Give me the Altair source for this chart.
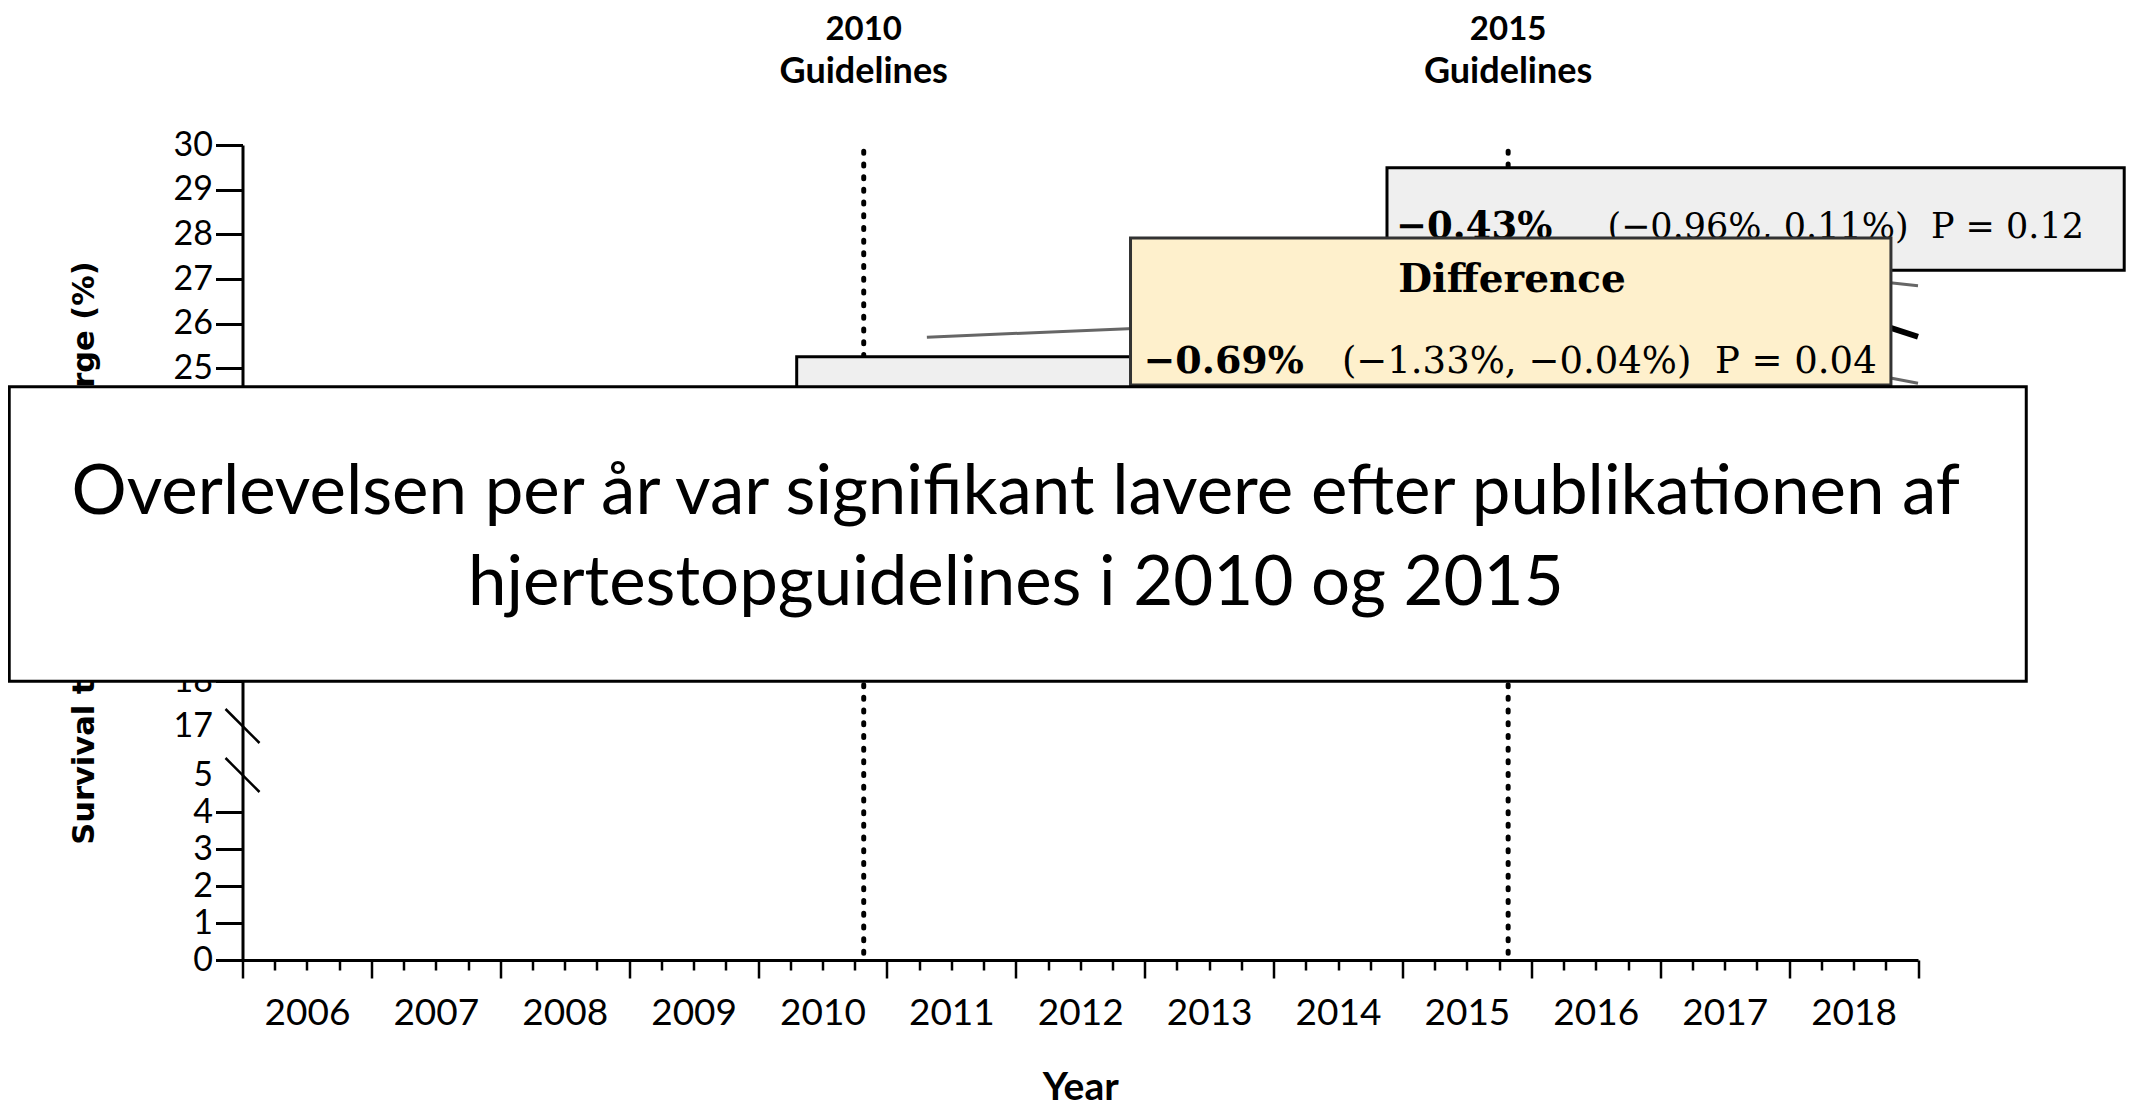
import altair as alt
import pandas as pd

# ---------------- data ----------------
x_start, x_end = 2006, 2019
quarter_ticks = [2006 + q / 4 for q in range(53)]
y_break_domain = [0, 5, 17, 30]
y_ticks = [0, 1, 2, 3, 4, 5, 17, 18, 19, 20, 21, 22, 23, 24, 25, 26, 27, 28, 29, 30]
axis_break_at = [17, 5]

guideline_dates = [2010.82, 2015.82]
guideline_low = [0.18, 0.18]
guideline_high = [30, 30]

trend_series = ["upper_2010", "upper_2010", "upper_2015", "upper_2015",
                "trend_2015", "trend_2015", "lower_2015", "lower_2015"]
trend_year = [2011.31, 2013.60, 2018.30, 2019.00, 2018.40, 2019.00, 2018.40, 2019.00]
trend_pct = [25.70, 25.98, 27.07, 26.85, 26.27, 25.71, 25.00, 24.67]

box_names = ["reference_2010", "reference_2015", "difference", "conclusion"]
box_year_from = [2010.30, 2014.88, 2012.89, 2004.19]
box_year_to = [2013.50, 2020.60, 2018.79, 2019.84]
box_pct_from = [24.00, 27.20, 24.63, 18.00]
box_pct_to = [25.26, 29.49, 27.92, 24.59]

note_keys = ["g_year", "g_year", "g_word", "g_word", "diff_title", "diff_est", "diff_ci",
             "ref_est", "ref_ci", "conclusion", "conclusion"]
note_texts = ["2010", "2015", "Guidelines", "Guidelines", "Difference",
              "\u22120.69%", "(\u22121.33%, \u22120.04%)\u00a0\u00a0P = 0.04",
              "\u22120.43%", "(\u22120.96%, 0.11%)\u00a0\u00a0P = 0.12",
              "Overlevelsen per år var signifikant lavere efter publikationen af",
              "hjertestopguidelines i 2010 og 2015"]
note_year = [2010.82, 2015.82, 2010.82, 2015.82, 2015.85, 2012.99, 2014.53,
             2014.95, 2016.59, 2012.0, 2012.0]
note_pct = [32.57, 32.57, 31.64, 31.64, 26.97, 25.15, 25.15, 28.17, 28.17, 22.22, 20.17]

# ---------------- tables ----------------
guide_df = pd.DataFrame({"date": guideline_dates, "low": guideline_low, "high": guideline_high})
trend_df = pd.DataFrame({"series": trend_series, "year": trend_year, "pct": trend_pct})
box_df = pd.DataFrame({"name": box_names, "x1": box_year_from, "x2": box_year_to,
                       "y1": box_pct_from, "y2": box_pct_to})
note_df = pd.DataFrame({"key": note_keys, "text": note_texts, "year": note_year, "pct": note_pct})
break_df = pd.DataFrame({"year": [x_start] * len(axis_break_at), "pct": axis_break_at})

W, H = 1675.5, 815

xs = alt.Scale(domain=[x_start, x_end], nice=False, zero=False)
ys = alt.Scale(domain=y_break_domain, range=[H, 630, 581, 0], nice=False, zero=False)

x_axis = alt.Axis(
    values=quarter_ticks, grid=False,
    domainColor="black", domainWidth=3,
    tickColor="black", tickWidth=2.5,
    tickSize={"condition": {"test": "datum.value % 1 === 0", "value": 18}, "value": 10},
    labelExpr="datum.value % 1 === 0 && datum.value < 2019 ? format(datum.value, 'd') : ''",
    labelOffset=64.45, labelFont="Lato", labelFontSize=37, labelColor="black",
    labelPadding=17, labelOverlap=False, labelFlush=False, labelBound=False,
    titleFont="Lato", titleFontWeight="bold", titleFontSize=39, titleColor="black",
    titleY=127, titleBaseline="middle",
)
# labels 19-24 sit under the overlay box in the reference, so they are left blank
y_axis = alt.Axis(
    values=y_ticks, grid=False,
    domainColor="black", domainWidth=3,
    tickSize=27, tickWidth=3,
    tickColor={"condition": {"test": "datum.value === 5 || datum.value === 17", "value": "transparent"},
               "value": "black"},
    labelExpr="datum.value >= 19 && datum.value <= 24 ? '' : datum.label",
    labelFont="Lato", labelFontSize=34, labelColor="black", labelPadding=3,
    labelOverlap=False, labelFlush=False, labelBound=False,
    titleFont="DejaVu Sans", titleFontSize=30.5, titleFontWeight="bold", titleColor="black",
    titleX=-158, titleY=H / 2, titleAngle=270, titleBaseline="middle", titleAlign="center",
)


def X(f):
    return alt.X(f, type="quantitative", scale=xs, axis=x_axis, title="Year")


def Y(f):
    return alt.Y(f, type="quantitative", scale=ys, axis=y_axis,
                 title="Survival to hospital discharge (%)")


def box(name, **style):
    return (alt.Chart(box_df).transform_filter(f"datum.name == '{name}'")
            .mark_rect(**style).encode(x=X("x1"), x2="x2", y=Y("y1"), y2="y2"))


def note(key, **style):
    return (alt.Chart(note_df).transform_filter(f"datum.key == '{key}'")
            .mark_text(baseline="middle", color="black", **style)
            .encode(x=X("year"), y=Y("pct"), text="text"))


guides = alt.Chart(guide_df).mark_rule(
    color="black", strokeWidth=5, strokeDash=[2, 10.7], strokeCap="round"
).encode(x=X("date"), y=Y("low"), y2="high")

gray_lines = (alt.Chart(trend_df).transform_filter("datum.series != 'trend_2015'")
              .mark_line(color="#666666", strokeWidth=3)
              .encode(x=X("year"), y=Y("pct"), detail="series"))
black_line = (alt.Chart(trend_df).transform_filter("datum.series == 'trend_2015'")
              .mark_line(color="black", strokeWidth=6)
              .encode(x=X("year"), y=Y("pct")))

breaks = alt.Chart(break_df).mark_rule(
    color="black", strokeWidth=2.5, xOffset=-17, x2Offset=17, yOffset=-17, y2Offset=17
).encode(x=X("year"), x2="year", y=Y("pct"), y2="pct")

serif = "DejaVu Serif"
layers = [
    guides,
    box("reference_2010", fill="#efefef", stroke="black", strokeWidth=3),
    gray_lines, black_line,
    box("reference_2015", fill="#efefef", stroke="black", strokeWidth=3),
    note("ref_est", font=serif, fontWeight="bold", fontSize=37, align="left"),
    note("ref_ci", font=serif, fontSize=35, align="left"),
    box("difference", fill="#fef0cc", stroke="#333333", strokeWidth=3),
    note("diff_title", font=serif, fontWeight="bold", fontSize=39, align="center"),
    note("diff_est", font=serif, fontWeight="bold", fontSize=38, align="left"),
    note("diff_ci", font=serif, fontSize=37, align="left"),
    box("conclusion", fill="white", stroke="black", strokeWidth=3),
    note("conclusion", font="Lato", fontSize=69, align="center"),
    note("g_year", font="Lato", fontWeight="bold", fontSize=33, align="center"),
    note("g_word", font="Lato", fontWeight="bold", fontSize=36, align="center"),
    breaks,
]

chart = alt.layer(*layers).properties(
    width=W, height=H,
    autosize=alt.AutoSizeParams(type="none"),
    padding={"left": 234.5, "top": 137, "right": 210, "bottom": 146},
    background="white",
).configure_view(stroke="transparent")

chart.save("out.html", embed_options={"renderer": "svg", "actions": False})
